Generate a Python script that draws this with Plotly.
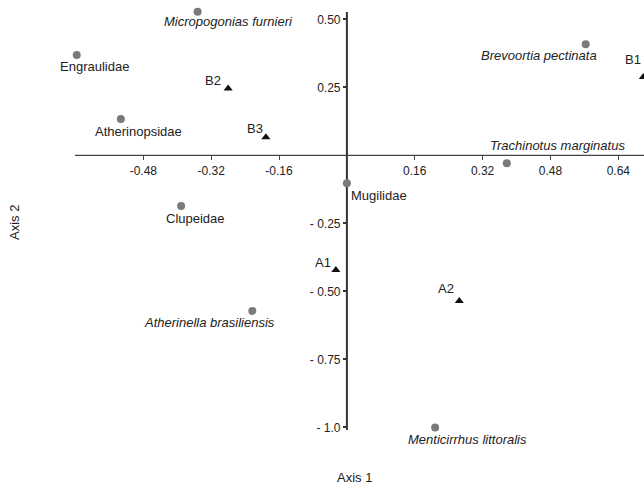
import plotly.graph_objects as go

# Species (grey circles)
species_names = ["Micropogonias furnieri", "Engraulidae", "Atherinopsidae", "Brevoortia pectinata",
                 "Trachinotus marginatus", "Mugilidae", "Clupeidae", "Atherinella brasiliensis",
                 "Menticirrhus littoralis"]
species_x = [-0.352, -0.637, -0.533, 0.563, 0.377, 0.000, -0.391, -0.223, 0.208]
species_y = [0.528, 0.369, 0.133, 0.408, -0.029, -0.103, -0.186, -0.572, -1.001]
species_italic = [True, False, False, True, True, False, False, True, True]

# Sites (black triangles)
site_names = ["B1", "B2", "B3", "A1", "A2"]
site_x = [0.699, -0.280, -0.191, -0.026, 0.265]
site_y = [0.288, 0.246, 0.066, -0.422, -0.536]

x_ticks = [-0.48, -0.32, -0.16, 0.16, 0.32, 0.48, 0.64]
x_tick_labels = ["-0.48", "-0.32", "-0.16", "0.16", "0.32", "0.48", "0.64"]
y_ticks = [0.50, 0.25, -0.25, -0.50, -0.75, -1.0]
y_tick_labels = ["0.50", "0.25", "- 0.25", "- 0.50", "- 0.75", "- 1.0"]

# axis line extents (data units)
x_line = [-0.641, 0.75]
y_line = [-1.010, 0.527]

# label offsets (pixels)
species_shift = [(31, -10), (18, -12), (18, -12), (-47, -11), (51, 18), (32, -12), (14, -13), (-43, -12), (32, -12)]
site_shift = [(-10, 17), (-15, 8), (-11, 9), (-13, 8), (-13, 13)]

FONT = "Liberation Sans, Arial, sans-serif"
W, H = 644, 485

fig = go.Figure()
fig.add_trace(go.Scatter(x=species_x, y=species_y, mode="markers",
                         marker=dict(symbol="circle", size=8, color="#7a7a7a"),
                         cliponaxis=False, showlegend=False))
fig.add_trace(go.Scatter(x=site_x, y=site_y, mode="markers",
                         marker=dict(symbol="triangle-up", size=8, color="#111111"),
                         cliponaxis=False, showlegend=False))

annotations = []
for n, x, y, it, (dx, dy) in zip(species_names, species_x, species_y, species_italic, species_shift):
    annotations.append(dict(x=x, y=y, xref="x", yref="y", text=f"<i>{n}</i>" if it else n,
                            showarrow=False, xshift=dx, yshift=dy,
                            xanchor="center", yanchor="middle",
                            font=dict(family=FONT, size=13, color="#222222")))
for n, x, y, (dx, dy) in zip(site_names, site_x, site_y, site_shift):
    annotations.append(dict(x=x, y=y, xref="x", yref="y", text=n,
                            showarrow=False, xshift=dx, yshift=dy,
                            xanchor="center", yanchor="middle",
                            font=dict(family=FONT, size=13, color="#222222")))
annotations.append(dict(x=354 / W, y=1 - 477 / H, xref="paper", yref="paper", text="Axis 1",
                        xanchor="center", yanchor="middle",
                        showarrow=False, font=dict(family=FONT, size=13, color="#222222")))
annotations.append(dict(x=15 / W, y=1 - 223 / H, xref="paper", yref="paper", text="Axis 2",
                        xanchor="center", yanchor="middle",
                        textangle=-90, showarrow=False, font=dict(family=FONT, size=13, color="#222222")))

px_per_x = 424.1
x0_px = 346.9
px_per_y = 272.0
y0_px = 155.3

shapes = [
    dict(type="line", xref="x", yref="y", x0=x_line[0], x1=x_line[1], y0=0, y1=0,
         line=dict(color="#444444", width=1.3), layer="below"),
    dict(type="line", xref="x", yref="y", x0=0, x1=0, y0=y_line[0], y1=y_line[1],
         line=dict(color="#333333", width=2), layer="below"),
]

fig.update_layout(
    width=W, height=H,
    margin=dict(l=0, r=0, t=0, b=0, autoexpand=False),
    plot_bgcolor="white", paper_bgcolor="white",
    font=dict(family=FONT, size=12, color="#222222"),
    annotations=annotations,
    shapes=shapes,
    xaxis=dict(
        domain=[0, 1],
        range=[(0 - x0_px) / px_per_x, (W - x0_px) / px_per_x],
        anchor="free", position=1 - y0_px / H,
        showline=False,
        ticks="outside", ticklen=4, tickwidth=1.3, tickcolor="#444444",
        tickvals=x_ticks, ticktext=x_tick_labels,
        tickfont=dict(family=FONT, size=12, color="#222222"),
        showgrid=False, zeroline=False,
    ),
    yaxis=dict(
        domain=[0, 1],
        range=[(y0_px - H) / px_per_y, (y0_px - 0) / px_per_y],
        anchor="free", position=x0_px / W,
        showline=False,
        ticks="outside", ticklen=4, tickwidth=1.5, tickcolor="#333333",
        tickvals=y_ticks, ticktext=y_tick_labels,
        tickfont=dict(family=FONT, size=12, color="#222222"),
        showgrid=False, zeroline=False,
    ),
)

fig.write_html("out.html", config={"displayModeBar": False},
               post_script="document.body.style.margin='0px';document.body.style.overflow='hidden';")
